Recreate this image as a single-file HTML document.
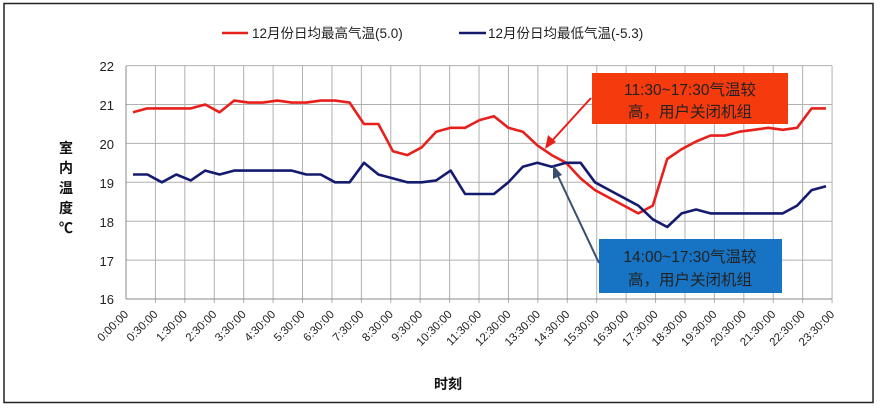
<!DOCTYPE html>
<html><head><meta charset="utf-8"><style>
body{margin:0;background:#fff}
svg{display:block;font-family:"Liberation Sans","Noto Sans CJK SC",sans-serif}
</style></head><body>
<svg id="s" width="880" height="409" viewBox="0 0 880 409" xmlns="http://www.w3.org/2000/svg">
<rect x="0" y="0" width="880" height="409" fill="#fff"/>
<rect x="4" y="3.5" width="869" height="399" fill="none" stroke="#222" stroke-width="1.5"/>
<g id="grid" stroke="#b0b0b0" stroke-width="1"></g>
<g stroke="#888" stroke-width="1">
<line x1="126" y1="66" x2="126" y2="299"/>
<line x1="126" y1="299" x2="832" y2="299"/>
</g>
<g font-size="13" fill="#222" text-anchor="end">
<text x="114" y="71">22</text><text x="114" y="110">21</text><text x="114" y="149">20</text>
<text x="114" y="188">19</text><text x="114" y="227">18</text><text x="114" y="266">17</text><text x="114" y="304">16</text>
</g>
<g font-size="14" font-weight="bold" fill="#111" text-anchor="middle">
<text x="66" y="153">室</text><text x="66" y="173">内</text><text x="66" y="193">温</text><text x="66" y="213">度</text><text x="66" y="233">℃</text>
<text x="448" y="389">时刻</text>
</g>
<g id="xl" font-size="11.5" fill="#222" text-anchor="end">
<text>0:00:00</text><text>0:30:00</text><text>1:30:00</text><text>2:30:00</text><text>3:30:00</text><text>4:30:00</text><text>5:30:00</text><text>6:30:00</text><text>7:30:00</text><text>8:30:00</text><text>9:30:00</text><text>10:30:00</text><text>11:30:00</text><text>12:30:00</text><text>13:30:00</text><text>14:30:00</text><text>15:30:00</text><text>16:30:00</text><text>17:30:00</text><text>18:30:00</text><text>19:30:00</text><text>20:30:00</text><text>21:30:00</text><text>22:30:00</text><text>23:30:00</text>
</g>
<polyline id="red" fill="none" stroke="#e8201c" stroke-width="2.6" stroke-linejoin="round"/>
<polyline id="blue" fill="none" stroke="#141a6e" stroke-width="2.6" stroke-linejoin="round"/>
<line x1="222" y1="33" x2="248" y2="33" stroke="#e8201c" stroke-width="2.6"/>
<text x="252" y="38" font-size="13.5" fill="#222">12月份日均最高气温(5.0)</text>
<line x1="459" y1="33" x2="486" y2="33" stroke="#141a6e" stroke-width="2.6"/>
<text x="488" y="38" font-size="13.5" fill="#222">12月份日均最低气温(-5.3)</text>
<rect x="592" y="73" width="196" height="51" fill="#f53a0e"/>
<text x="690" y="95" font-size="15.5" fill="#222" text-anchor="middle">11:30~17:30气温较</text>
<text x="690" y="117" font-size="15.5" fill="#222" text-anchor="middle">高，用户关闭机组</text>
<rect x="599" y="239" width="183" height="54" fill="#1774c4"/>
<text x="690" y="262" font-size="15.5" fill="#222" text-anchor="middle">14:00~17:30气温较</text>
<text x="690" y="285" font-size="15.5" fill="#222" text-anchor="middle">高，用户关闭机组</text>
<line x1="591" y1="98" x2="550" y2="143" stroke="#e8201c" stroke-width="2"/>
<polygon points="545,149 548,135 556,142" fill="#e8201c"/>
<line x1="599" y1="263" x2="557" y2="174" stroke="#3a4f6e" stroke-width="2"/>
<polygon points="553,165 553,179 562,175" fill="#3a4f6e"/>
</svg>
<script>
var ns="http://www.w3.org/2000/svg",g=document.getElementById('grid');
function Y(v){return 299-(v-16)*38.9;}
for(var v=17;v<=22;v++){var l=document.createElementNS(ns,'line');l.setAttribute('x1',126);l.setAttribute('x2',832);l.setAttribute('y1',Y(v));l.setAttribute('y2',Y(v));g.appendChild(l);}
for(var k=1;k<=24;k++){var x=126+k*29.42;var l=document.createElementNS(ns,'line');l.setAttribute('x1',x);l.setAttribute('x2',x);l.setAttribute('y1',66);l.setAttribute('y2',303);g.appendChild(l);}
var t=document.getElementById('xl').children;
for(var k=0;k<t.length;k++){var x=129+k*29.42,y=315;t[k].setAttribute('x',x);t[k].setAttribute('y',y);t[k].setAttribute('transform','rotate(-45 '+x+' '+y+')');}
var red=[20.8,20.9,20.9,20.9,20.9,21.0,20.8,21.1,21.05,21.05,21.1,21.05,21.05,21.1,21.1,21.05,20.5,20.5,19.8,19.7,19.9,20.3,20.4,20.4,20.6,20.7,20.4,20.3,19.95,19.7,19.5,19.1,18.8,18.6,18.4,18.2,18.4,19.6,19.85,20.05,20.2,20.2,20.3,20.35,20.4,20.35,20.4,20.9,20.9];
var blue=[19.2,19.2,19.0,19.2,19.05,19.3,19.2,19.3,19.3,19.3,19.3,19.3,19.2,19.2,19.0,19.0,19.5,19.2,19.1,19.0,19.0,19.05,19.3,18.7,18.7,18.7,19.0,19.4,19.5,19.4,19.5,19.5,19.0,18.8,18.6,18.4,18.05,17.85,18.2,18.3,18.2,18.2,18.2,18.2,18.2,18.2,18.4,18.8,18.9];
function pts(a){var n=a.length,s=[];for(var i=0;i<n;i++){s.push((133+i*(826-133)/(n-1)).toFixed(1)+','+Y(a[i]).toFixed(1));}return s.join(' ');}
document.getElementById('red').setAttribute('points',pts(red));
document.getElementById('blue').setAttribute('points',pts(blue));
</script>
</body></html>
